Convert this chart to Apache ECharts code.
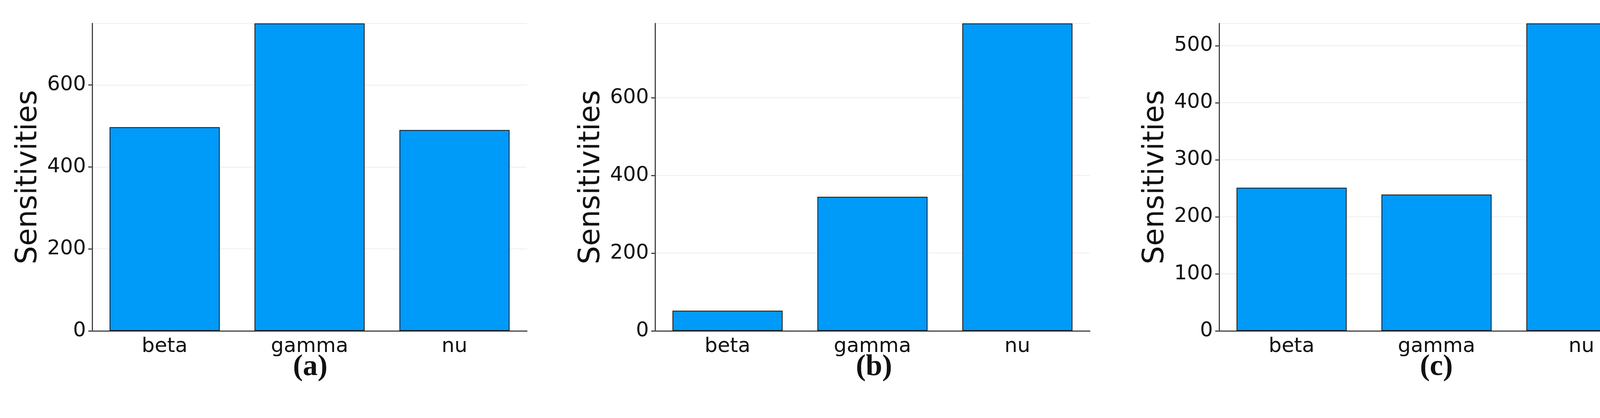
<!DOCTYPE html>
<html>
<head>
<meta charset="utf-8">
<script src="https://cdn.jsdelivr.net/npm/echarts@6/dist/echarts.min.js"></script>
<style>html,body{margin:0;padding:0;background:#fff}#chart{width:4255px;height:1070px}</style>
</head>
<body>
<div id="chart"></div>
<script>
// data
const categories = ['beta', 'gamma', 'nu'];
const valuesA = [497, 750, 490];
const valuesB = [52, 345, 791];
const valuesC = [251, 239, 539];
const yMax = [750, 791, 539];
const yStep = [200, 200, 100];
const captions = ['(a)', '(b)', '(c)'];

const chart = echarts.init(document.getElementById('chart'));
const lefts = [236, 1677, 3121];
const all = [valuesA, valuesB, valuesC];

const grid = [], xAxis = [], yAxis = [], series = [], graphic = [];
all.forEach((vals, i) => {
	grid.push({ left: lefts[i], top: 60, width: 1113, height: 787 });
	xAxis.push({
		type: 'category', gridIndex: i, data: categories,
		axisLine: { lineStyle: { color: '#444', width: 3 } },
		axisTick: { alignWithLabel: true, length: 8, lineStyle: { color: '#ddd' } },
		axisLabel: { fontSize: 52, color: '#111', margin: 14, fontFamily: 'DejaVu Sans' },
		splitLine: { show: false }
	});
	yAxis.push({
		type: 'value', gridIndex: i, min: 0, max: yMax[i], interval: yStep[i],
		name: 'Sensitivities', nameLocation: 'middle', nameGap: 125,
		nameTextStyle: { fontSize: 74, color: '#111', fontFamily: 'DejaVu Sans' },
		axisLine: { show: true, lineStyle: { color: '#444', width: 3 } },
		axisTick: { show: true, length: 10, lineStyle: { color: '#444', width: 3 } },
		axisLabel: { fontSize: 52, color: '#111', margin: 16, showMaxLabel: false, fontFamily: 'DejaVu Sans' },
		splitLine: { lineStyle: { color: '#eee', width: 2 } }
	});
	series.push({
		type: 'bar', xAxisIndex: i, yAxisIndex: i, data: vals,
		barCategoryGap: '24%',
		itemStyle: { color: '#009af9', borderColor: '#111', borderWidth: 2 },
		animation: false
	});
	graphic.push({
		type: 'text', left: lefts[i] + 556 - 42, top: 902,
		style: { text: captions[i], fontSize: 76, fontFamily: 'Liberation Serif', fontWeight: 'bold', fill: '#111' }
	});
});

chart.setOption({ animation: false, grid, xAxis, yAxis, series, graphic });
</script>
</body>
</html>
